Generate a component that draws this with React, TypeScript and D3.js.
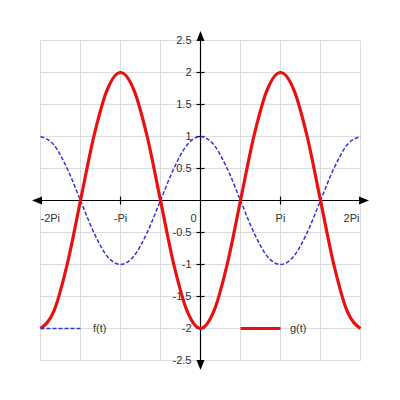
import { useRef, useEffect } from 'react';
import * as d3 from 'd3';

// t in multiples of Pi, step Pi/6
const T_PI = [
  -2, -11 / 6, -10 / 6, -1.5, -8 / 6, -7 / 6, -1, -5 / 6, -4 / 6, -0.5, -2 / 6, -1 / 6, 0,
  1 / 6, 2 / 6, 0.5, 4 / 6, 5 / 6, 1, 7 / 6, 8 / 6, 1.5, 10 / 6, 11 / 6, 2,
];
const F_VALUES = [
  1, 0.87, 0.5, 0, -0.5, -0.87, -1, -0.87, -0.5, 0, 0.5, 0.87, 1,
  0.87, 0.5, 0, -0.5, -0.87, -1, -0.87, -0.5, 0, 0.5, 0.87, 1,
];
const G_VALUES = [
  -2, -1.73, -1, 0, 1, 1.73, 2, 1.73, 1, 0, -1, -1.73, -2,
  -1.73, -1, 0, 1, 1.73, 2, 1.73, 1, 0, -1, -1.73, -2,
];
const X_TICKS = [-2, -1, 0, 1, 2];
const X_LABELS = ['-2Pi', '-Pi', '0', 'Pi', '2Pi'];
const Y_TICKS = [2.5, 2, 1.5, 1, 0.5, -0.5, -1, -1.5, -2, -2.5];
const GRID_X = [-2, -1.5, -1, -0.5, 0, 0.5, 1, 1.5, 2];
const GRID_Y = [-2.5, -2, -1.5, -1, -0.5, 0, 0.5, 1, 1.5, 2, 2.5];

const W = 400;
const H = 400;
const FONT = '"Liberation Sans", Arial, sans-serif';

export default function App() {
  const svgRef = useRef<SVGSVGElement>(null);

  useEffect(() => {
    const svg = d3.select(svgRef.current);
    svg.selectAll('*').remove();

    const x = d3.scaleLinear().domain([-2 * Math.PI, 2 * Math.PI]).range([40.5, 360.5]);
    const y = d3.scaleLinear().domain([-2.5, 2.5]).range([360.5, 40.5]);

    // grid
    const grid = svg.append('g').attr('stroke', '#dcdcdc').attr('stroke-width', 1);
    grid.selectAll('line.gx')
      .data(GRID_X)
      .join('line')
      .attr('x1', d => x(d * Math.PI))
      .attr('x2', d => x(d * Math.PI))
      .attr('y1', y(2.5))
      .attr('y2', y(-2.5));
    grid.selectAll('line.gy')
      .data(GRID_Y)
      .join('line')
      .attr('class', 'gy')
      .attr('y1', d => y(d))
      .attr('y2', d => y(d))
      .attr('x1', x(-2 * Math.PI))
      .attr('x2', x(2 * Math.PI));

    // axes with arrows
    const x0 = x(0);
    const y0 = y(0);
    const axes = svg.append('g').attr('stroke', '#000').attr('stroke-width', 1.2);
    axes.append('line').attr('x1', 33).attr('x2', 367).attr('y1', y0).attr('y2', y0);
    axes.append('line').attr('y1', 33).attr('y2', 367).attr('x1', x0).attr('x2', x0);
    const heads = svg.append('g').attr('fill', '#000');
    heads.append('path').attr('d', `M32,${y0} L42,${y0 - 4} L42,${y0 + 4} Z`);
    heads.append('path').attr('d', `M369,${y0} L359,${y0 - 4} L359,${y0 + 4} Z`);
    heads.append('path').attr('d', `M${x0},31 L${x0 - 4},41 L${x0 + 4},41 Z`);
    heads.append('path').attr('d', `M${x0},370 L${x0 - 4},360 L${x0 + 4},360 Z`);

    // tick marks
    axes.selectAll('line.tx')
      .data(X_TICKS.filter(d => Math.abs(d) === 1))
      .join('line')
      .attr('class', 'tx')
      .attr('x1', d => x(d * Math.PI))
      .attr('x2', d => x(d * Math.PI))
      .attr('y1', y0 - 4)
      .attr('y2', y0 + 4);
    axes.selectAll('line.ty')
      .data(Y_TICKS.filter(d => Math.abs(d) !== 2.5))
      .join('line')
      .attr('class', 'ty')
      .attr('y1', d => y(d))
      .attr('y2', d => y(d))
      .attr('x1', x0 - 4)
      .attr('x2', x0 + 4);

    // labels
    const labels = svg.append('g')
      .attr('font-family', FONT)
      .attr('font-size', 11)
      .attr('fill', '#333');
    labels.selectAll('text.xl')
      .data(X_TICKS)
      .join('text')
      .attr('class', 'xl')
      .attr('x', (d, i) => (i === 0 ? x(d * Math.PI) : i === 4 ? x(d * Math.PI) - 1 : d === 0 ? x0 - 7 : x(d * Math.PI)))
      .attr('y', 222)
      .attr('text-anchor', (_d, i) => (i === 0 ? 'start' : i === 4 ? 'end' : 'middle'))
      .text((_d, i) => X_LABELS[i]);
    labels.selectAll('text.yl')
      .data(Y_TICKS)
      .join('text')
      .attr('class', 'yl')
      .attr('x', x0 - 9)
      .attr('y', d => y(d))
      .attr('dy', '0.35em')
      .attr('text-anchor', 'end')
      .text(d => String(d));

    // curves
    const line = (vals: number[]) =>
      d3.line<number>()
        .x((_d, i) => x(T_PI[i] * Math.PI))
        .y(d => y(d))
        .curve(d3.curveMonotoneX)(vals);

    svg.append('path')
      .attr('d', line(F_VALUES))
      .attr('fill', 'none')
      .attr('stroke', '#3333dd')
      .attr('stroke-width', 1.5)
      .attr('stroke-dasharray', '4,2');

    svg.append('path')
      .attr('d', line(G_VALUES))
      .attr('fill', 'none')
      .attr('stroke', '#e81010')
      .attr('stroke-width', 3.2)
      .attr('stroke-linejoin', 'round');

    // legend
    const ly = y(-2);
    svg.append('line')
      .attr('x1', x(-2 * Math.PI)).attr('x2', x(-1.5 * Math.PI))
      .attr('y1', ly).attr('y2', ly)
      .attr('stroke', '#3333dd').attr('stroke-width', 1.5).attr('stroke-dasharray', '4,2');
    labels.append('text').attr('x', 93).attr('y', ly).attr('dy', '0.35em').text('f(t)');
    svg.append('line')
      .attr('x1', x(0.5 * Math.PI)).attr('x2', x(1 * Math.PI))
      .attr('y1', ly).attr('y2', ly)
      .attr('stroke', '#e81010').attr('stroke-width', 3.2);
    labels.append('text').attr('x', 290).attr('y', ly).attr('dy', '0.35em').text('g(t)');
  }, []);

  return (
    <svg
      ref={svgRef}
      width={W}
      height={H}
      style={{ position: 'absolute', left: 0, top: 0, background: '#fff' }}
    />
  );
}
